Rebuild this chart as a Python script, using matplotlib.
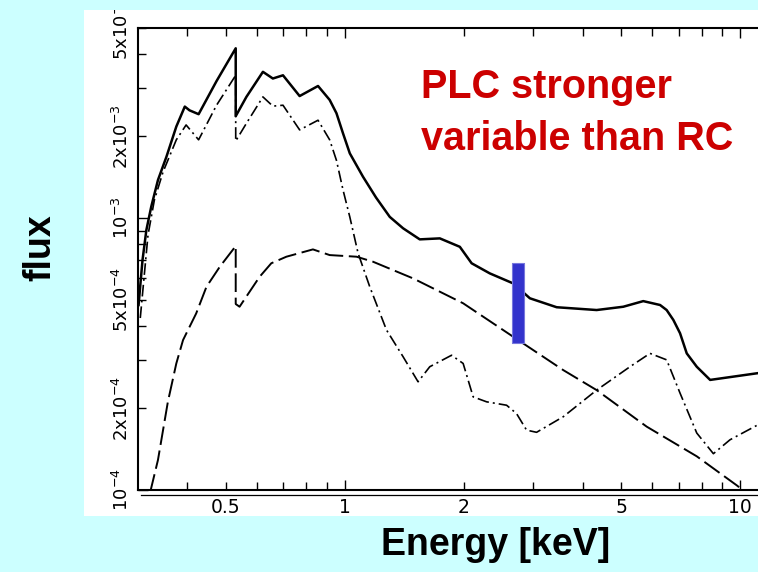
import matplotlib
matplotlib.use('Agg')
import matplotlib.pyplot as plt
from matplotlib import font_manager
from matplotlib.ticker import FixedLocator, FuncFormatter
from matplotlib.patches import Rectangle
from matplotlib.lines import Line2D

# total model (solid)
energy_total = [0.301, 0.308, 0.315, 0.324, 0.337, 0.354, 0.375, 0.394, 0.405, 0.427,
                0.474, 0.53, 0.53, 0.564, 0.621, 0.658, 0.698, 0.769, 0.856, 0.916,
                0.953, 0.990, 1.030, 1.112, 1.20, 1.300, 1.405, 1.548, 1.740, 1.955,
                2.094, 2.328, 2.668, 2.940, 3.436, 4.337, 5.065, 5.69, 6.275, 6.52,
                6.78, 7.05, 7.33, 7.77, 8.40, 11.1]
flux_total = [4.79e-4, 7.01e-4, 9.04e-4, 1.10e-3, 1.38e-3, 1.68e-3, 2.17e-3, 2.57e-3, 2.49e-3, 2.41e-3,
              3.19e-3, 4.21e-3, 2.37e-3, 2.79e-3, 3.45e-3, 3.26e-3, 3.35e-3, 2.81e-3, 3.06e-3, 2.72e-3,
              2.43e-3, 2.05e-3, 1.73e-3, 1.42e-3, 1.19e-3, 1.01e-3, 9.17e-4, 8.35e-4, 8.42e-4, 7.84e-4,
              6.82e-4, 6.26e-4, 5.75e-4, 5.07e-4, 4.70e-4, 4.59e-4, 4.72e-4, 4.95e-4, 4.79e-4, 4.59e-4,
              4.22e-4, 3.77e-4, 3.18e-4, 2.84e-4, 2.54e-4, 2.69e-4]

# PLC component (dash-dot)
energy_plc = [0.304, 0.318, 0.330, 0.347, 0.375, 0.397, 0.427, 0.474, 0.53, 0.53,
              0.564, 0.621, 0.658, 0.698, 0.769, 0.856, 0.916, 0.953, 0.990, 1.030,
              1.081, 1.157, 1.275, 1.405, 1.533, 1.641, 1.863, 1.993, 2.113, 2.285,
              2.567, 2.72, 2.884, 3.057, 3.571, 4.337, 5.266, 5.917, 6.52, 7.05,
              7.77, 8.56, 9.43, 11.04]
flux_plc = [4.29e-4, 8.66e-4, 1.165e-3, 1.476e-3, 1.94e-3, 2.20e-3, 1.94e-3, 2.60e-3, 3.35e-3, 1.92e-3,
            2.23e-3, 2.79e-3, 2.58e-3, 2.60e-3, 2.11e-3, 2.29e-3, 1.94e-3, 1.63e-3, 1.27e-3, 1.01e-3,
            7.42e-4, 5.59e-4, 3.88e-4, 3.09e-4, 2.50e-4, 2.84e-4, 3.13e-4, 2.92e-4, 2.20e-4, 2.11e-4,
            2.05e-4, 1.91e-4, 1.66e-4, 1.63e-4, 1.86e-4, 2.33e-4, 2.84e-4, 3.18e-4, 3.01e-4, 2.27e-4,
            1.62e-4, 1.36e-4, 1.53e-4, 1.73e-4]

# RC component (long dashes)
energy_rc = [0.322, 0.337, 0.357, 0.375, 0.390, 0.421, 0.447, 0.483, 0.53, 0.53,
             0.542, 0.609, 0.652, 0.712, 0.831, 0.916, 1.071, 1.179, 1.489, 1.993,
             2.668, 3.571, 4.337, 5.805, 7.77, 9.81, 10.33]
flux_rc = [0.98e-4, 1.29e-4, 2.11e-4, 2.92e-4, 3.56e-4, 4.46e-4, 5.59e-4, 6.62e-4, 7.89e-4, 4.83e-4,
           4.72e-4, 6.08e-4, 6.82e-4, 7.21e-4, 7.67e-4, 7.31e-4, 7.21e-4, 6.91e-4, 6.00e-4, 4.86e-4,
           3.66e-4, 2.76e-4, 2.33e-4, 1.71e-4, 1.33e-4, 1.04e-4, 0.98e-4]

# blue variability bar
bar_energy = [2.65, 2.84]
bar_lo = 3.47e-4
bar_hi = 6.83e-4

xtick_vals = [0.5, 1, 2, 5, 10]
xtick_labels = ['0.5', '1', '2', '5', '10']
ytick_vals = [1e-4, 2e-4, 5e-4, 1e-3, 2e-3, 5e-3]
ytick_labels = ['10$^{-4}$', '2x10$^{-4}$', '5x10$^{-4}$', '10$^{-3}$', '2x10$^{-3}$', '5x10$^{-3}$']

W, H = 758, 572
fig = plt.figure(figsize=(W / 100, H / 100), dpi=100)
fig.patch.set_facecolor('#ccffff')

white = Rectangle((84 / W, 1 - 516 / H), (W - 84) / W, (516 - 10) / H,
                  transform=fig.transFigure, facecolor='white', edgecolor='none', zorder=-1)
fig.patches.append(white)

ax = fig.add_axes([138 / W, 1 - 490 / H, (W - 138) / W, (490 - 28) / H])
ax.set_facecolor('none')
ax.set_xscale('log')
ax.set_yscale('log')
ax.set_xlim(0.3, 11.1)
ax.set_ylim(1e-4, 5e-3)

ax.plot(energy_total, flux_total, color='black', lw=1.8, solid_joinstyle='round')
ax.plot(energy_plc, flux_plc, color='black', lw=1.2, dashes=(7, 2.4, 1.2, 2.4))
ax.plot(energy_rc, flux_rc, color='black', lw=1.4, dashes=(9.6, 2.9))
ax.fill_between(bar_energy, bar_lo, bar_hi, facecolor='#3333cc', edgecolor='#7777dd', lw=0.8, zorder=3)

ax.spines['right'].set_visible(False)
for s in ['left', 'top', 'bottom']:
    ax.spines[s].set_linewidth(1.5)

# ticks
xlab = {round(v, 3): l for v, l in zip(xtick_vals, xtick_labels)}
ylab = {f'{v:.0e}': l for v, l in zip(ytick_vals, ytick_labels)}
ax.xaxis.set_major_locator(FixedLocator([1, 10]))
ax.xaxis.set_minor_locator(FixedLocator([0.4, 0.5, 0.6, 0.7, 0.8, 0.9, 2, 3, 4, 5, 6, 7, 8, 9]))
ax.yaxis.set_major_locator(FixedLocator([1e-4, 1e-3]))
ax.yaxis.set_minor_locator(FixedLocator([2e-4, 3e-4, 4e-4, 5e-4, 6e-4, 7e-4, 8e-4, 9e-4,
                                         2e-3, 3e-3, 4e-3, 5e-3]))
xfmt = FuncFormatter(lambda v, p: xlab.get(round(v, 3), ''))
yfmt = FuncFormatter(lambda v, p: ylab.get(f'{v:.0e}', ''))
ax.xaxis.set_major_formatter(xfmt)
ax.xaxis.set_minor_formatter(xfmt)
ax.yaxis.set_major_formatter(yfmt)
ax.yaxis.set_minor_formatter(yfmt)

ax.tick_params(which='both', direction='in', top=True, right=False, width=1.0,
               labelfontfamily='DejaVu Sans')
ax.tick_params(which='major', length=7.5)
ax.tick_params(which='minor', length=5.5)
ax.tick_params(axis='x', which='both', pad=6, labelsize=13.5)
ax.tick_params(axis='y', which='both', labelrotation=90, pad=4.3, labelsize=13)

for lbl in ax.yaxis.get_majorticklabels() + ax.yaxis.get_minorticklabels():
    lbl.set_va('center')
    lbl.set_clip_path(white)
    lbl.set_clip_on(True)

# second line under the bottom axis
fig.add_artist(Line2D([141 / W, 1.0], [1 - 495 / H, 1 - 495 / H], color='black', lw=0.9,
                      transform=fig.transFigure))

fig.text(40 / W, 1 - 248 / H, 'flux', rotation=90, ha='center', va='center',
         fontsize=27, fontweight='bold', family='Liberation Sans')
fig.text(495.5 / W, 1 - 555 / H, 'Energy [keV]', ha='center', va='baseline',
         fontsize=27, fontweight='bold', family='Liberation Sans')

names = {f.name for f in font_manager.fontManager.ttflist}
if 'Liberation Sans Narrow' in names:
    red_font, red_size = 'Liberation Sans Narrow', 34
else:
    red_font, red_size = 'Liberation Sans', 28.5
fig.text(421 / W, 1 - 98 / H, 'PLC stronger', color='#cc0000', fontsize=red_size,
         fontweight='bold', family=red_font, va='baseline')
fig.text(421 / W, 1 - 150 / H, 'variable than RC', color='#cc0000', fontsize=red_size,
         fontweight='bold', family=red_font, va='baseline')

fig.savefig('out.png', dpi=100)
